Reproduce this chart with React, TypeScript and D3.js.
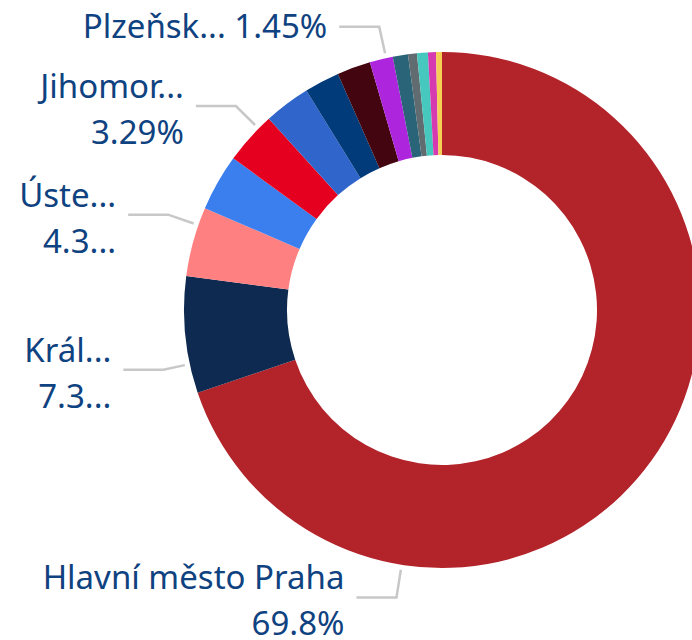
import React from 'react';
import * as d3 from 'd3';

// shares of the 14 regions, clockwise from 12 o'clock
const regions = [
  'Hlavní město Praha',
  'Královéhradecký kraj',
  'Ústecký kraj',
  'Středočeský kraj',
  'Jihomoravský kraj',
  'Moravskoslezský kraj',
  'Olomoucký kraj',
  'Pardubický kraj',
  'Plzeňský kraj',
  'Liberecký kraj',
  'Zlínský kraj',
  'Jihočeský kraj',
  'Kraj Vysočina',
  'Karlovarský kraj',
];
const shares = [69.8, 7.3, 4.35, 3.55, 3.29, 2.9, 2.2, 2.1, 1.45, 0.95, 0.56, 0.68, 0.5, 0.37];
const colors = [
  '#B2232A', '#0E2A50', '#FF8080', '#3B7FEF', '#E6001F', '#3065CC', '#013B7A',
  '#430510', '#AE25DE', '#2A6478', '#606C70', '#46C8BE', '#D63AB0', '#F4CE55',
];

// data labels shown in the chart (truncated as in the original)
const labelSlices = [0, 1, 2, 4, 8];
const labelLine1 = ['Hlavní město Praha', 'Král...', 'Úste...', 'Jihomor...', 'Plzeňsk... 1.45%'];
const labelLine2 = ['69.8%', '7.3...', '4.3...', '3.29%', ''];

// layout
const W = 692;
const H = 640;
const cx = 442;
const cy = 310;
const outerR = 258;
const innerR = 155;
const labelAngles = [189, 257.9, 289.2, 314.7, 347.5];
const elbowR = [291, 285, 290, 290, 290];

export default function App() {
  const pie = d3
    .pie<number>()
    .sort(null)
    .value((d) => d)
    .startAngle(0)
    .endAngle(2 * Math.PI);
  const arcs = pie(shares);
  const arc = d3.arc<d3.PieArcDatum<number>>().innerRadius(innerR).outerRadius(outerR);

  const polar = (deg: number, r: number): [number, number] => {
    const a = (deg * Math.PI) / 180;
    return [cx + r * Math.sin(a), cy - r * Math.cos(a)];
  };

  const fontSize = 33;
  const textColor = '#0F4280';

  return (
    <svg
      width={W}
      height={H}
      style={{ position: 'absolute', left: 0, top: 0, background: '#fff' }}
      fontFamily="'Noto Sans', sans-serif"
    >
      <g transform={`translate(${cx},${cy})`}>
        {arcs.map((a, i) => (
          <path key={regions[i]} d={arc(a) || ''} fill={colors[i]}>
            <title>{`${regions[i]}: ${shares[i]}%`}</title>
          </path>
        ))}
      </g>
      {labelSlices.map((s, k) => {
        const ang = labelAngles[k];
        const [sx, sy] = polar(ang, outerR + 5);
        const [ex, ey] = polar(ang, elbowR[k]);
        const hx = ex - 40;
        const tx = hx - 12;
        const twoLines = labelLine2[k] !== '';
        return (
          <g key={regions[s]}>
            <polyline
              points={`${sx},${sy} ${ex},${ey} ${hx},${ey}`}
              fill="none"
              stroke="#C8C8C8"
              strokeWidth={2.5}
            />
            <text
              x={tx}
              y={twoLines ? ey - 8 : ey + 11}
              textAnchor="end"
              fontSize={fontSize}
              fill={textColor}
            >
              {labelLine1[k]}
            </text>
            {twoLines && (
              <text x={tx} y={ey + 38} textAnchor="end" fontSize={fontSize} fill={textColor}>
                {labelLine2[k]}
              </text>
            )}
          </g>
        );
      })}
    </svg>
  );
}
